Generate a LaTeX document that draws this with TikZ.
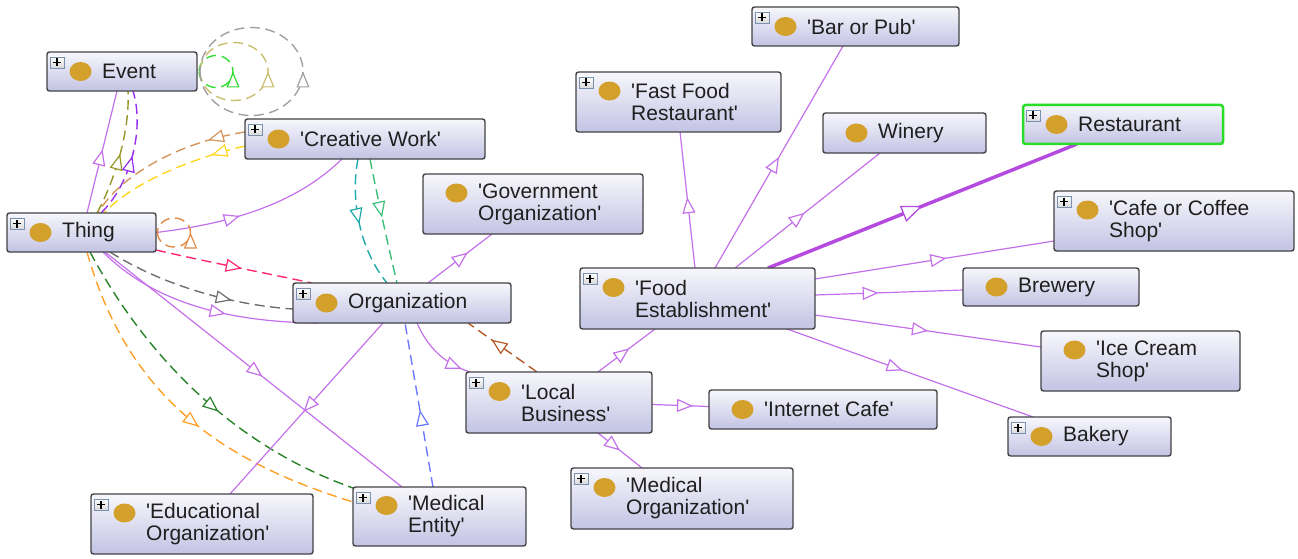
\documentclass[tikz,border=0pt]{standalone}
\usepackage{fontspec}
\setmainfont{Liberation Sans}
\usetikzlibrary{arrows.meta,decorations.markings,calc}
\pgfdeclarelayer{edges}
\pgfsetlayers{edges,main}

% box and symbol colours
\definecolor{boxline}{RGB}{66,66,70}
\definecolor{boxtop}{RGB}{247,247,252}
\definecolor{boxbot}{RGB}{195,195,228}
\definecolor{classdot}{RGB}{212,160,44}
\definecolor{restgreen}{RGB}{40,220,40}
\definecolor{plusline}{RGB}{120,145,175}
% edge colours
\definecolor{isa}{RGB}{196,112,234}
\definecolor{isadark}{RGB}{180,74,222}
\definecolor{olivedash}{RGB}{150,150,40}
\definecolor{violetdash}{RGB}{150,45,240}
\definecolor{tandash}{RGB}{212,150,92}
\definecolor{yellowdash}{RGB}{255,214,30}
\definecolor{loopgreen}{RGB}{50,220,50}
\definecolor{loopkhaki}{RGB}{200,190,110}
\definecolor{loopgray}{RGB}{160,160,160}
\definecolor{thingloop}{RGB}{226,140,72}
\definecolor{pinkdash}{RGB}{255,40,110}
\definecolor{graydash}{RGB}{110,110,110}
\definecolor{forestdash}{RGB}{40,130,40}
\definecolor{orangedash}{RGB}{255,160,40}
\definecolor{tealdash}{RGB}{30,170,170}
\definecolor{seadash}{RGB}{60,190,120}
\definecolor{bluedash}{RGB}{110,120,255}
\definecolor{siennadash}{RGB}{180,90,40}

\newcommand\sq{\textquotesingle}

\tikzset{
  obox/.style={draw=boxline, line width=1.4pt, rounded corners=2.5pt,
    top color=boxtop, bottom color=boxbot, inner sep=0pt, outer sep=0pt},
  otext/.style={font=\fontsize{21}{22}\selectfont, align=left, inner sep=0pt,
    anchor=west, text=black!88},
  sub/.style={isa, line width=1.2pt},
  rel/.style={line width=1.4pt, dash pattern=on 10pt off 5.5pt},
  tip/.style={postaction={decorate, decoration={markings,
    mark=at position #1 with {\arrow{Triangle[fill=white, length=16pt, width=13pt, line width=1.2pt]}}}}},
  bigtip/.style={postaction={decorate, decoration={markings,
    mark=at position #1 with {\arrow{Triangle[fill=white, length=21pt, width=17pt, line width=1.3pt]}}}}},
}

% class box: name, left, top, right, bottom, dot lift, label
\newcommand\cls[8][]{%
  \node[obox,#1,minimum width={#5-#3},minimum height={#6-#4}] (#2) at ({(#3+#5)/2},{(#4+#6)/2}) {};
  \fill[classdot] ($(#2.west)+(33.5,-#7)$) ellipse[x radius=11pt, y radius=9.5pt];
  \node[otext] at ($(#2.west)+(55,0)$) {#8};
}
% expand marker in the upper left corner of a box
\newcommand\expander[1]{%
  \draw[draw=plusline, line width=0.8pt, top color=white, bottom color=black!15]
    ($(#1.north west)+(3,5)$) rectangle ($(#1.north west)+(17,16)$);
  \draw[line width=1.1pt, black]
    ($(#1.north west)+(6,10.5)$) -- ($(#1.north west)+(14,10.5)$)
    ($(#1.north west)+(10,6.5)$) -- ($(#1.north west)+(10,14.5)$);
}

\begin{document}
\begin{tikzpicture}[x=1pt,y=-1pt]
\useasboundingbox (0,0) rectangle (1298,559);

% classes
\cls{event}{47}{52}{197}{91}{0}{Event}
\cls{cw}{245}{119}{485}{159}{0}{\sq Creative Work\sq}
\cls{thing}{7}{213}{156}{252}{0}{Thing}
\cls{govt}{423}{174}{643}{234}{11}{\sq Government\\Organization\sq}
\cls{org}{293}{283}{511}{323}{0}{Organization}
\cls{lb}{466}{372}{652}{433}{11}{\sq Local\\Business\sq}
\cls{ic}{709}{390}{937}{429}{0}{\sq Internet Cafe\sq}
\cls{medorg}{571}{468}{793}{529}{11}{\sq Medical\\Organization\sq}
\cls{educ}{91}{494}{313}{554}{11}{\sq Educational\\Organization\sq}
\cls{medent}{353}{487}{526}{546}{11}{\sq Medical\\Entity\sq}
\cls{fe}{580}{268}{815}{329}{11}{\sq Food\\Establishment\sq}
\cls{ff}{576}{72}{781}{132}{11}{\sq Fast Food\\Restaurant\sq}
\cls{bar}{752}{7}{959}{46}{0}{\sq Bar or Pub\sq}
\cls{winery}{823}{113}{986}{153}{0}{Winery}
\cls[draw=restgreen, line width=2.5pt]{rest}{1023}{105}{1223}{144}{0}{Restaurant}
\cls{cafe}{1054}{191}{1294}{251}{11}{\sq Cafe or Coffee\\Shop\sq}
\cls{brew}{963}{268}{1139}{306}{0}{Brewery}
\cls{ice}{1041}{331}{1240}{391}{11}{\sq Ice Cream\\Shop\sq}
\cls{bakery}{1008}{417}{1171}{456}{0}{Bakery}

\foreach \n in {event,cw,thing,org,lb,medorg,educ,medent,fe,ff,bar,rest,cafe,bakery}
  {\expander{\n}}

\begin{pgfonlayer}{edges}
% Thing and Event
\draw[sub,tip=0.52] ($(thing.north west)+(80,0)$) -- ($(event.south west)+(70,0)$);
\draw[rel,olivedash,tip=0.5] ($(thing.north west)+(90,0)$) .. controls +(18,-33) and +(2,40) .. ($(event.south west)+(81,0)$);
\draw[rel,violetdash,tip=0.5] ($(thing.north west)+(94,0)$) .. controls +(29,-28) and +(12,39) .. ($(event.south west)+(86,0)$);
% Event self loops
\draw[rel,loopgreen,tip=0.5] ($(event.east)+(2,0)$) arc[start angle=180,end angle=-180,x radius=17,y radius=16];
\draw[rel,loopkhaki,tip=0.5] ($(event.east)+(3,0)$) arc[start angle=180,end angle=-180,x radius=34,y radius=29];
\draw[rel,loopgray,tip=0.5] ($(event.east)+(3,0)$) arc[start angle=180,end angle=-180,x radius=51.5,y radius=44];
% Creative Work and Thing
\draw[rel,tandash,tip=0.22] ($(cw.north west)+(0,13)$) .. controls +(-65,10) and +(22,-38) .. ($(thing.north west)+(91,0)$);
\draw[rel,yellowdash,tip=0.22] ($(cw.north west)+(0,27)$) .. controls +(-60,14) and +(26,-28) .. ($(thing.north west)+(97,0)$);
\draw[sub,tip=0.42] (thing.east) .. controls +(84,-10) and +(-42,41) .. ($(cw.south west)+(97,0)$);
% Thing self loop
\draw[rel,thingloop,tip=0.5] ($(thing.east)+(1.5,0)$) arc[start angle=180,end angle=-180,x radius=16.5,y radius=14.5];
% Thing and Organization
\draw[rel,pinkdash,tip=0.55] ($(thing.south east)+(0,-2)$) .. controls +(52,12) and +(-52,-11) .. ($(org.north west)+(19,0)$);
\draw[rel,graydash,tip=0.68] ($(thing.south west)+(103,0)$) .. controls +(50,32) and +(-63,-4) .. ($(org.west)+(0,6)$);
\draw[sub,tip=0.6] ($(thing.south west)+(96,0)$) .. controls +(47,47) and +(-98,-1) .. ($(org.south west)+(25,0)$);
% Thing and Medical Entity
\draw[sub,tip=0.53] ($(thing.south west)+(98,0)$) -- ($(medent.north west)+(49,0)$);
\draw[rel,forestdash,tip=0.57] ($(thing.south west)+(83,0)$) .. controls +(60,112) and +(-113,-40) .. ($(medent.north west)+(0,1)$);
\draw[rel,orangedash,tip=0.55] ($(thing.south west)+(80,0)$) .. controls +(42,150) and +(-125,-39) .. ($(medent.north west)+(0,15)$);
% Creative Work and Organization
\draw[rel,tealdash,tip=0.5] ($(cw.south west)+(113,0)$) .. controls +(-8,41) and +(-27,-33) .. ($(org.north west)+(94,0)$);
\draw[rel,seadash,tip=0.47] ($(cw.south west)+(125,0)$) .. controls +(8,41) and +(-9,-38) .. ($(org.north west)+(104,0)$);
% Organization neighbourhood
\draw[rel,bluedash,tip=0.47] ($(medent.north west)+(80,0)$) -- ($(org.south west)+(112,0)$);
\draw[sub,tip=0.52] ($(org.south west)+(90,0)$) -- ($(educ.north west)+(139,0)$);
\draw[sub,tip=0.62] ($(org.north west)+(135,0)$) -- ($(govt.south west)+(69,0)$);
\draw[sub,tip=0.88] ($(org.south west)+(124,0)$) .. controls +(11,25) and +(-25,-8) .. ($(lb.north west)+(4,0)$);
\draw[rel,siennadash,tip=0.66] ($(lb.north west)+(71,0)$) -- ($(org.south west)+(175,0)$);
% Local Business
\draw[sub,tip=0.55] ($(lb.north west)+(132,0)$) -- ($(fe.south west)+(75,0)$);
\draw[sub,tip=0.72] ($(lb.east)+(0,2)$) -- ($(ic.west)+(0,-3)$);
\draw[sub,tip=0.5] ($(lb.south west)+(132,0)$) -- ($(medorg.north west)+(71,0)$);
% Food Establishment
\draw[sub,tip=0.52] ($(fe.north west)+(115,0)$) -- ($(ff.south west)+(104,0)$);
\draw[sub,tip=0.5] ($(fe.north west)+(135,0)$) -- ($(bar.south west)+(91,0)$);
\draw[sub,tip=0.48] ($(fe.north west)+(155,0)$) -- ($(winery.south west)+(57,0)$);
\draw[isadark,line width=3.5pt,bigtip=0.5] ($(fe.north west)+(188,0)$) -- ($(rest.south west)+(54,0)$);
\draw[sub,tip=0.55] ($(fe.north east)+(0,11)$) -- ($(cafe.south west)+(0,-10)$);
\draw[sub,tip=0.43] ($(fe.north east)+(0,27)$) -- ($(brew.west)+(0,3)$);
\draw[sub,tip=0.5] ($(fe.north east)+(0,47)$) -- ($(ice.north west)+(0,16)$);
\draw[sub,tip=0.47] ($(fe.south east)+(-28,0)$) -- ($(bakery.north west)+(25,0)$);
\end{pgfonlayer}
\end{tikzpicture}
\end{document}
